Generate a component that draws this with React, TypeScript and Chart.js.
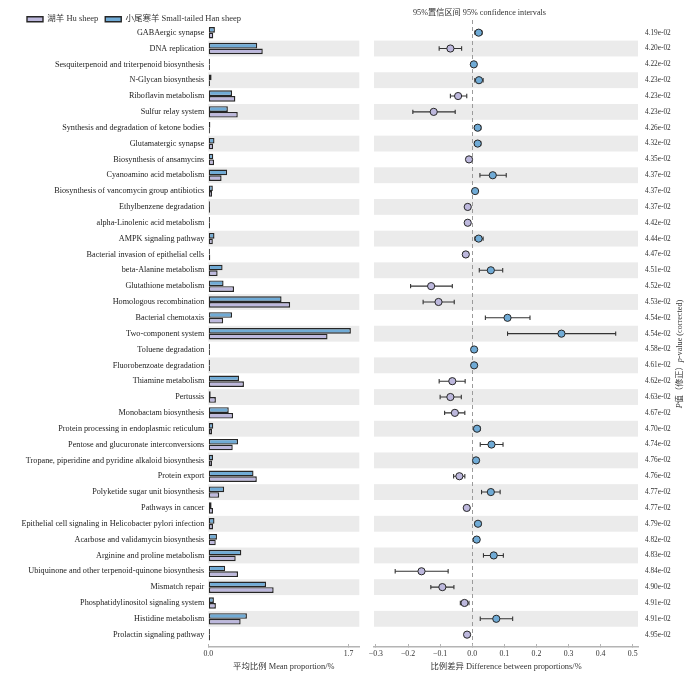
import { useEffect, useRef } from 'react';
import { Chart, registerables } from 'chart.js';

Chart.register(...registerables);

const categories = [
  'GABAergic synapse',
  'DNA replication',
  'Sesquiterpenoid and triterpenoid biosynthesis',
  'N-Glycan biosynthesis',
  'Riboflavin metabolism',
  'Sulfur relay system',
  'Synthesis and degradation of ketone bodies',
  'Glutamatergic synapse',
  'Biosynthesis of ansamycins',
  'Cyanoamino acid metabolism',
  'Biosynthesis of vancomycin group antibiotics',
  'Ethylbenzene degradation',
  'alpha-Linolenic acid metabolism',
  'AMPK signaling pathway',
  'Bacterial invasion of epithelial cells',
  'beta-Alanine metabolism',
  'Glutathione metabolism',
  'Homologous recombination',
  'Bacterial chemotaxis',
  'Two-component system',
  'Toluene degradation',
  'Fluorobenzoate degradation',
  'Thiamine metabolism',
  'Pertussis',
  'Monobactam biosynthesis',
  'Protein processing in endoplasmic reticulum',
  'Pentose and glucuronate interconversions',
  'Tropane, piperidine and pyridine alkaloid biosynthesis',
  'Protein export',
  'Polyketide sugar unit biosynthesis',
  'Pathways in cancer',
  'Epithelial cell signaling in Helicobacter pylori infection',
  'Acarbose and validamycin biosynthesis',
  'Arginine and proline metabolism',
  'Ubiquinone and other terpenoid-quinone biosynthesis',
  'Mismatch repair',
  'Phosphatidylinositol signaling system',
  'Histidine metabolism',
  'Prolactin signaling pathway',
];

// Mean proportion (%) — Small-tailed Han sheep (blue)
const hanMean = [
  0.08, 0.593, 0.012, 0.04, 0.288, 0.237, 0.025, 0.075, 0.06, 0.228,
  0.055, 0.006, 0.006, 0.075, 0.004, 0.173, 0.185, 0.888, 0.288, 1.728,
  0.012, 0.012, 0.372, 0.029, 0.248, 0.06, 0.36, 0.057, 0.548, 0.192,
  0.04, 0.075, 0.105, 0.4, 0.204, 0.7, 0.068, 0.468, 0.005,
];

// Mean proportion (%) — Hu sheep (purple)
const huMean = [
  0.06, 0.66, 0.007, 0.02, 0.328, 0.357, 0.008, 0.058, 0.07, 0.161,
  0.046, 0.02, 0.02, 0.055, 0.024, 0.113, 0.312, 0.992, 0.18, 1.445,
  0.006, 0.006, 0.432, 0.092, 0.3, 0.045, 0.296, 0.045, 0.588, 0.132,
  0.057, 0.057, 0.09, 0.332, 0.36, 0.792, 0.092, 0.392, 0.02,
];

// Difference between proportions (%) and 95% confidence interval
const diffMean = [
  0.02, -0.068, 0.005, 0.021, -0.044, -0.12, 0.017, 0.017, -0.01, 0.064,
  0.009, -0.014, -0.014, 0.02, -0.02, 0.058, -0.128, -0.105, 0.11, 0.278,
  0.006, 0.006, -0.062, -0.068, -0.054, 0.015, 0.06, 0.012, -0.04, 0.058,
  -0.017, 0.018, 0.014, 0.067, -0.158, -0.093, -0.024, 0.075, -0.016,
];
const ciLow = [
  0.008, -0.103, 0.001, 0.008, -0.068, -0.185, 0.007, 0.007, -0.015, 0.024,
  0.004, -0.019, -0.019, 0.008, -0.028, 0.022, -0.192, -0.153, 0.041, 0.11,
  0.002, 0.002, -0.103, -0.1, -0.086, 0.006, 0.025, 0.005, -0.058, 0.029,
  -0.022, 0.009, 0.007, 0.035, -0.24, -0.129, -0.037, 0.025, -0.022,
];
const ciHigh = [
  0.031, -0.033, 0.009, 0.034, -0.017, -0.053, 0.027, 0.027, -0.005, 0.106,
  0.014, -0.009, -0.009, 0.034, -0.012, 0.095, -0.062, -0.056, 0.18, 0.447,
  0.01, 0.01, -0.022, -0.034, -0.023, 0.025, 0.096, 0.019, -0.023, 0.087,
  -0.01, 0.027, 0.021, 0.097, -0.075, -0.057, -0.01, 0.126, -0.008,
];

const pValues = [
  '4.19e-02', '4.20e-02', '4.22e-02', '4.23e-02', '4.23e-02', '4.23e-02', '4.26e-02', '4.32e-02',
  '4.35e-02', '4.37e-02', '4.37e-02', '4.37e-02', '4.42e-02', '4.44e-02', '4.47e-02', '4.51e-02',
  '4.52e-02', '4.53e-02', '4.54e-02', '4.54e-02', '4.58e-02', '4.61e-02', '4.62e-02', '4.63e-02',
  '4.67e-02', '4.70e-02', '4.74e-02', '4.76e-02', '4.76e-02', '4.77e-02', '4.77e-02', '4.79e-02',
  '4.82e-02', '4.83e-02', '4.84e-02', '4.90e-02', '4.91e-02', '4.91e-02', '4.95e-02',
];

const meanTicks = [0, 1.7];
const diffTicks = [-0.3, -0.2, -0.1, 0, 0.1, 0.2, 0.3, 0.4, 0.5];

const HU_LABEL = '湖羊 Hu sheep';
const HAN_LABEL = '小尾寒羊 Small-tailed Han sheep';
const MEAN_TITLE = '平均比例 Mean proportion/%';
const DIFF_TITLE = '比例差异 Difference between proportions/%';
const CI_TITLE = '95%置信区间 95% confidence intervals';
const P_TITLE: { t: string; italic?: boolean }[] = [
  { t: 'P', italic: true },
  { t: '值（修正）' },
  { t: 'p', italic: true },
  { t: '-value (corrected)' },
];

const HU = '#bdb8dd';
const HAN = '#70abd6';
const EDGE = '#262626';
const BAND = '#ebebeb';
const TEXT = '#333333';
const AXIS = '#b4b4b4';
const SERIF = "'Liberation Serif', 'Times New Roman', 'Noto Sans CJK SC', serif";

const rowBands = {
  id: 'rowBands',
  beforeDraw(chart: any) {
    const { ctx, chartArea, scales } = chart;
    const y = scales.y;
    ctx.save();
    ctx.fillStyle = BAND;
    for (let i = 1; i < categories.length; i += 2) {
      const a = y.getPixelForValue(i - 0.5);
      const b = y.getPixelForValue(i + 0.5);
      ctx.fillRect(chartArea.left, Math.min(a, b), chartArea.right - chartArea.left, Math.abs(b - a));
    }
    ctx.restore();
  },
};

const dotText = {
  id: 'dotText',
  afterDraw(chart: any) {
    const { ctx, chartArea } = chart;
    ctx.save();
    ctx.fillStyle = TEXT;
    ctx.textBaseline = 'middle';
    ctx.textAlign = 'left';
    ctx.font = `8.2px ${SERIF}`;
    ctx.fillText(CI_TITLE, chartArea.left + 39, 13);

    ctx.translate(chart.width - 20, 354);
    ctx.rotate(-Math.PI / 2);
    const fontFor = (it?: boolean) => `${it ? 'italic ' : ''}8.2px ${SERIF}`;
    let total = 0;
    for (const s of P_TITLE) {
      ctx.font = fontFor(s.italic);
      total += ctx.measureText(s.t).width;
    }
    let x = -total / 2;
    for (const s of P_TITLE) {
      ctx.font = fontFor(s.italic);
      ctx.fillText(s.t, x, 0);
      x += ctx.measureText(s.t).width;
    }
    ctx.restore();
  },
};

const fmtDiff = (v: number) => (v === 0 ? '0.0' : (v < 0 ? '\u2212' : '') + Math.abs(v).toFixed(1));

export default function App() {
  const barRef = useRef<HTMLCanvasElement>(null);
  const dotRef = useRef<HTMLCanvasElement>(null);

  useEffect(() => {
    if (!barRef.current || !dotRef.current) return;

    const barChart = new Chart(barRef.current, {
      type: 'bar',
      data: {
        datasets: [
          {
            label: HAN_LABEL,
            data: hanMean.map((v, i) => ({ x: v, y: i })),
            backgroundColor: HAN,
            borderColor: EDGE,
            borderWidth: 1.4,
            borderSkipped: false,
            categoryPercentage: 0.72,
            barPercentage: 1,
            minBarLength: 1.6,
          } as any,
          {
            label: HU_LABEL,
            data: huMean.map((v, i) => ({ x: v, y: i })),
            backgroundColor: HU,
            borderColor: EDGE,
            borderWidth: 1.4,
            borderSkipped: false,
            categoryPercentage: 0.72,
            barPercentage: 1,
            minBarLength: 1.6,
          } as any,
        ],
      },
      options: {
        indexAxis: 'y',
        responsive: false,
        animation: false,
        events: [],
        layout: { padding: { left: 20, top: 8, right: 2.7, bottom: 0 } },
        plugins: {
          legend: {
            position: 'top',
            align: 'start',
            reverse: true,
            maxHeight: 17,
            labels: {
              boxWidth: 16,
              boxHeight: 5,
              padding: 7,
              color: TEXT,
              font: { family: SERIF, size: 8.5 },
            },
          },
          tooltip: { enabled: false },
        },
        scales: {
          x: {
            type: 'linear',
            min: 0,
            max: 1.83,
            afterBuildTicks: (s: any) => {
              s.ticks = meanTicks.map((v) => ({ value: v }));
            },
            afterFit: (s: any) => {
              s.height = 31;
            },
            ticks: {
              autoSkip: false,
              maxRotation: 0,
              padding: 5.2,
              color: TEXT,
              font: { family: SERIF, size: 7.8 },
              callback: (v: any) => Number(v).toFixed(1),
            },
            grid: { display: true, drawOnChartArea: false, drawTicks: true, tickLength: -3, tickColor: AXIS },
            border: { display: true, color: AXIS, width: 1.5 },
            title: {
              display: true,
              text: MEAN_TITLE,
              color: TEXT,
              font: { family: SERIF, size: 8.4 },
              padding: { top: 0, bottom: 6 },
            },
          },
          y: {
            type: 'linear',
            reverse: true,
            offset: false,
            bounds: 'data',
            min: -0.486,
            max: 38.776,
            afterBuildTicks: (s: any) => {
              s.ticks = categories.map((_, i) => ({ value: i }));
            },
            afterFit: (s: any) => {
              s.width = 188.3;
            },
            ticks: {
              autoSkip: false,
              padding: 4,
              color: '#222',
              font: { family: SERIF, size: 8.2 },
              callback: (v: any) => categories[v] ?? '',
            },
            grid: { display: false, drawTicks: false, offset: false },
            border: { display: false },
          },
        },
      } as any,
      plugins: [rowBands],
    });

    const dotChart = new Chart(dotRef.current, {
      type: 'scatter',
      data: {
        datasets: [
          {
            label: 'difference',
            data: diffMean.map((v, i) => ({ x: v, y: i })),
            backgroundColor: diffMean.map((v) => (v >= 0 ? HAN : HU)),
            borderColor: EDGE,
            borderWidth: 1,
            pointRadius: 3.6,
            pointHoverRadius: 3.6,
          } as any,
          {
            label: '95% CI',
            data: ciLow.flatMap((lo, i) => [
              { x: lo, y: i },
              { x: ciHigh[i], y: i },
              { x: NaN, y: NaN },
            ]),
            showLine: true,
            spanGaps: false,
            borderColor: '#333',
            borderWidth: 1.1,
            pointStyle: 'line',
            pointRotation: 90,
            pointRadius: 2.2,
            pointHoverRadius: 2.2,
            pointBorderColor: '#333',
            pointBorderWidth: 1.1,
          } as any,
        ],
      },
      options: {
        responsive: false,
        animation: false,
        events: [],
        layout: { padding: { left: 14, top: 20, right: 0, bottom: 0 } },
        plugins: { legend: { display: false }, tooltip: { enabled: false } },
        scales: {
          x: {
            type: 'linear',
            position: 'bottom',
            min: -0.306,
            max: 0.5165,
            afterBuildTicks: (s: any) => {
              s.ticks = diffTicks.map((v) => ({ value: v }));
            },
            afterFit: (s: any) => {
              s.height = 31;
            },
            ticks: {
              autoSkip: false,
              maxRotation: 0,
              padding: 5.2,
              color: TEXT,
              font: { family: SERIF, size: 7.8 },
              callback: (v: any) => fmtDiff(Number(v)),
            },
            grid: {
              display: true,
              drawOnChartArea: true,
              drawTicks: true,
              tickLength: -3,
              tickColor: AXIS,
              lineWidth: 1,
              color: (c: any) => (c.tick && c.tick.value === 0 ? '#9b9b9b' : 'rgba(0,0,0,0)'),
            },
            border: { display: true, color: AXIS, width: 1.5, dash: [4, 3] },
            title: {
              display: true,
              text: DIFF_TITLE,
              color: TEXT,
              font: { family: SERIF, size: 8.4 },
              padding: { top: 0, bottom: 6 },
            },
          },
          y: {
            type: 'linear',
            position: 'right',
            reverse: true,
            offset: false,
            bounds: 'data',
            min: -0.8,
            max: 38.78,
            afterBuildTicks: (s: any) => {
              s.ticks = pValues.map((_, i) => ({ value: i }));
            },
            afterFit: (s: any) => {
              s.width = 62;
            },
            ticks: {
              autoSkip: false,
              padding: 7,
              color: TEXT,
              font: { family: SERIF, size: 7.3 },
              callback: (v: any) => pValues[v] ?? '',
            },
            grid: { display: false, drawTicks: false },
            border: { display: false },
          },
        },
      } as any,
      plugins: [rowBands, dotText],
    });

    return () => {
      barChart.destroy();
      dotChart.destroy();
    };
  }, []);

  return (
    <div style={{ position: 'absolute', left: 0, top: 0, width: 700, height: 678, background: '#fff' }}>
      <canvas
        ref={barRef}
        width={362}
        height={678}
        style={{ position: 'absolute', left: 0, top: 0, width: 362, height: 678 }}
      />
      <canvas
        ref={dotRef}
        width={340}
        height={678}
        style={{ position: 'absolute', left: 360, top: 0, width: 340, height: 678 }}
      />
    </div>
  );
}
